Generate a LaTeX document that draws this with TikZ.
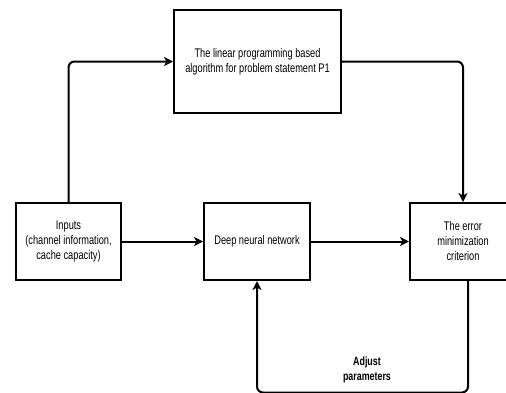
\documentclass[tikz,border=0pt]{standalone}
\usepackage{fontspec}
\setmainfont{Liberation Sans}[FakeStretch=0.74]
\usetikzlibrary{arrows.meta}
\begin{document}
\begin{tikzpicture}[x=1pt,y=-1pt,
  box/.style={draw=black,line width=2pt,rectangle,inner sep=2pt,align=center,
    font=\fontsize{12.5}{15}\selectfont,text=black},
  conn/.style={draw=black,line width=2pt,rounded corners=6pt,
    -{Stealth[length=9pt,width=9pt,inset=2.5pt]}},
  lbl/.style={font=\fontsize{12}{15}\selectfont\bfseries,align=center,text=black}]
\useasboundingbox (0,0) rectangle (506,392);
\node[box,minimum width=167pt,minimum height=103pt] (top) at (257.5,61.5)
  {The linear programming based\\algorithm for problem statement P1};
\node[box,minimum width=105pt,minimum height=77pt] (in) at (68.5,241.5)
  {Inputs\\(channel information,\\cache capacity)};
\node[box,minimum width=106pt,minimum height=77pt] (dnn) at (257,241.5)
  {Deep neural network};
\node[box,minimum width=106pt,minimum height=77pt] (err) at (463,241.5)
  {The error\\minimization\\criterion};
\coordinate (b) at (257,392.5);
\draw[conn] (in.north) |- (top.west);
\draw[conn] (top.east) -| (err.north);
\draw[conn] (in) -- (dnn);
\draw[conn] (dnn) -- (err);
\draw[conn] ([xshift=5pt]err.south) |- (b) -- (dnn.south);
\node[lbl] (adj) at (367,370) {Adjust\\parameters};
\end{tikzpicture}
\end{document}
